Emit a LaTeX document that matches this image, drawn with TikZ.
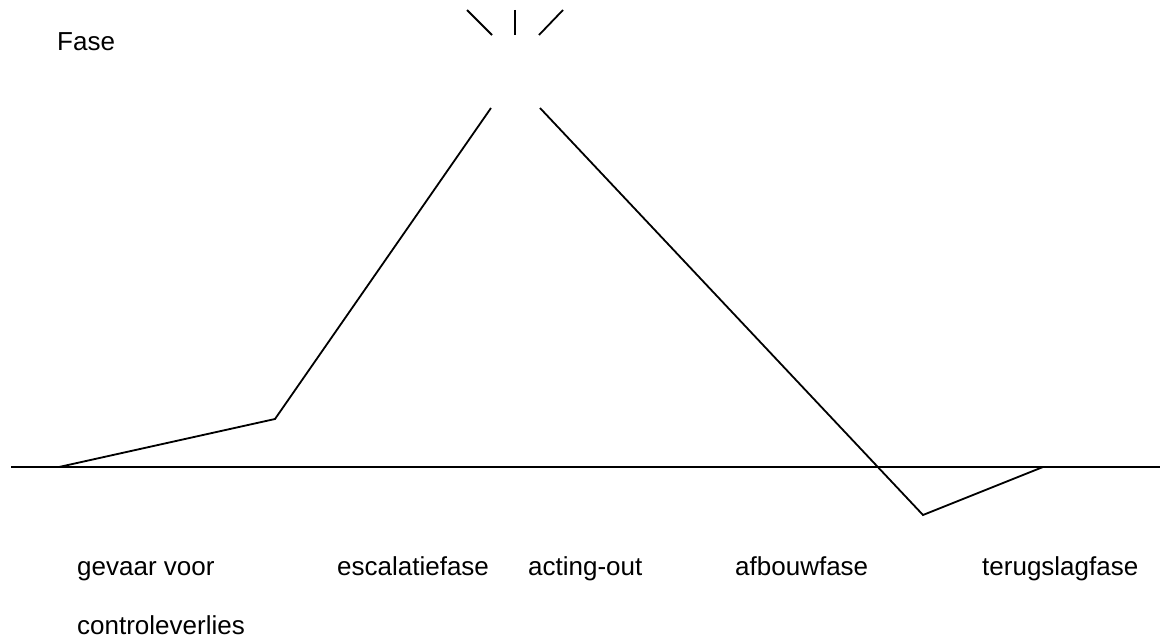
\documentclass[tikz,border=0pt]{standalone}
\usepackage{fontspec}
\setmainfont{Liberation Sans}
\begin{document}
\begin{tikzpicture}[x=1pt,y=-1pt,
  ln/.style={line width=1.8pt,line join=miter},
  lbl/.style={anchor=base west,inner sep=0pt,font=\fontsize{26}{30}\selectfont}]
\useasboundingbox (0,0) rectangle (1160,639);
% axis
\coordinate (axL) at (11,467);
\coordinate (axR) at (1160,467);
\draw[ln] (axL) -- (axR);
% curve
\coordinate (p0) at (59,467);
\coordinate (p1) at (275,419);
\coordinate (p2) at (491,108);
\coordinate (p3) at (540,108);
\coordinate (p4) at (923,515);
\coordinate (p5) at (1043,467);
\draw[ln] (p0) -- (p1) -- (p2);
\draw[ln] (p3) -- (p4) -- (p5);
% burst
\coordinate (b1a) at (467,10); \coordinate (b1b) at (492,35);
\coordinate (b2a) at (515,10); \coordinate (b2b) at (515,35);
\coordinate (b3a) at (563,10); \coordinate (b3b) at (539,35);
\draw[ln] (b1a) -- (b1b);
\draw[ln] (b2a) -- (b2b);
\draw[ln] (b3a) -- (b3b);
% labels
\node[lbl] (fase) at (57,51) {Fase};
\node[lbl] (gev) at (77,575) {gevaar voor};
\node[lbl] (ctrl) at (77,634) {controleverlies};
\node[lbl] (esc) at (337,575) {escalatiefase};
\node[lbl] (act) at (528,575) {acting-out};
\node[lbl] (afb) at (735,575) {afbouwfase};
\node[lbl] (ter) at (982,575) {terugslagfase};
\end{tikzpicture}
\end{document}
